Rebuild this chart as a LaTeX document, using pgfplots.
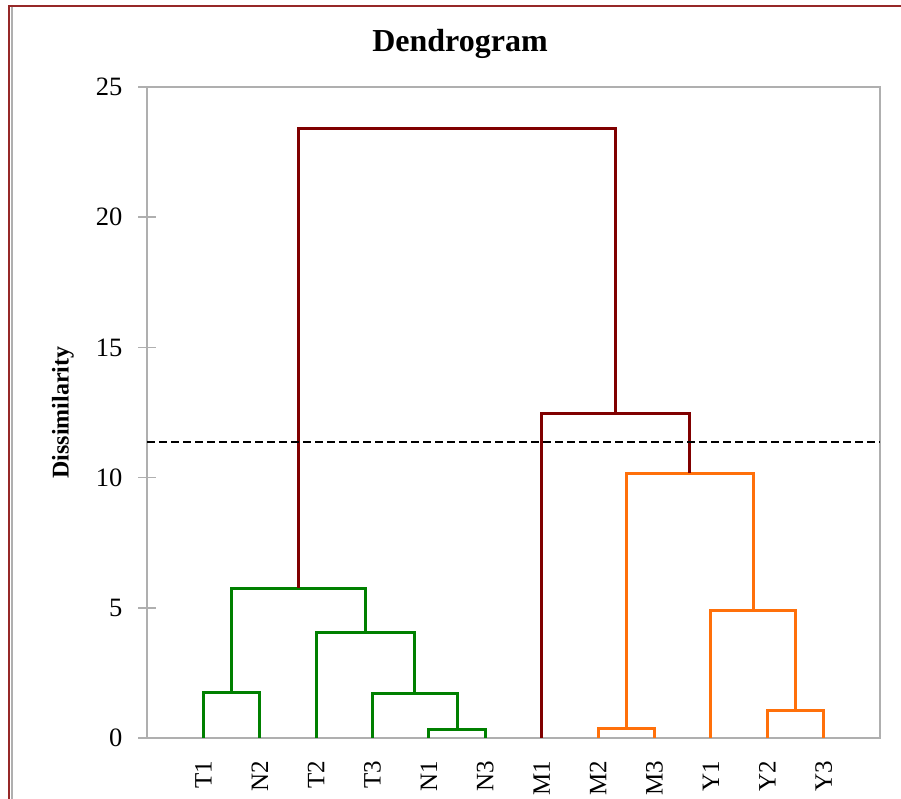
\documentclass[border=0pt]{standalone}
\usepackage{pgfplots}
\pgfplotsset{compat=1.18}
\usepackage{fontspec}
\setmainfont{Liberation Serif}
\definecolor{dgreen}{RGB}{0,128,0}
\definecolor{dorange}{RGB}{255,112,10}
\definecolor{dred}{RGB}{128,0,0}
\definecolor{framered}{RGB}{150,40,40}
\definecolor{axgrey}{RGB}{175,175,175}
\begin{document}
\begin{tikzpicture}
\path[use as bounding box] (-147pt,-61pt) rectangle (754pt,738pt);
\draw[framered, line width=2.6pt] (-138pt,-80pt) -- (-138pt,732pt) -- (780pt,732pt);
\draw[axgrey, line width=2pt] (-135pt,-80pt) -- (-135pt,730.5pt);
\begin{axis}[
  scale only axis,
  width=733pt, height=651pt,
  xmin=0, xmax=13, ymin=0, ymax=25,
  clip=false,
  axis line style={axgrey, line width=1.5pt},
  ytick={0,5,10,15,20,25},
  ytick pos=left,
  xtick={1,...,12},
  xticklabels={T1,N2,T2,T3,N1,N3,M1,M2,M3,Y1,Y2,Y3},
  x tick style={draw=none},
  y tick style={axgrey, line width=1.5pt},
  tick align=center,
  major tick length=18pt,
  /pgf/number format/assume math mode=true,
  yticklabel style={font=\fontsize{26.5}{30}\selectfont, anchor=east, xshift=-12pt},
  xticklabel style={font=\fontsize{25}{29}\selectfont, rotate=90, anchor=east},
  xticklabel shift=10pt,
  ylabel={\textbf{Dissimilarity}},
  ylabel style={font=\fontsize{24}{28}\selectfont, at={(rel axis cs:-0.1146,0.5)}, anchor=center},
  title={\textbf{Dendrogram}},
  title style={font=\fontsize{32}{36}\selectfont, at={(rel axis cs:0.427,1.0553)}, anchor=base, yshift=-7pt},
  every axis plot/.append style={line width=3pt, line join=miter},
]
% green cluster
\addplot[dgreen] coordinates {(1,0)(1,1.74)(2,1.74)(2,0)};
\addplot[dgreen] coordinates {(5,0)(5,0.34)(6,0.34)(6,0)};
\addplot[dgreen] coordinates {(4,0)(4,1.71)(5.5,1.71)(5.5,0.34)};
\addplot[dgreen] coordinates {(3,0)(3,4.07)(4.75,4.07)(4.75,1.71)};
\addplot[dgreen] coordinates {(1.5,1.74)(1.5,5.76)(3.875,5.76)(3.875,4.07)};
% orange cluster
\addplot[dorange] coordinates {(8,0)(8,0.37)(9,0.37)(9,0)};
\addplot[dorange] coordinates {(11,0)(11,1.04)(12,1.04)(12,0)};
\addplot[dorange] coordinates {(10,0)(10,4.91)(11.5,4.91)(11.5,1.04)};
\addplot[dorange] coordinates {(8.5,0.37)(8.5,10.16)(10.75,10.16)(10.75,4.91)};
% dark red links
\addplot[dred] coordinates {(7,0)(7,12.48)(9.625,12.48)(9.625,10.16)};
\addplot[dred] coordinates {(2.6875,5.76)(2.6875,23.39)(8.3125,23.39)(8.3125,12.48)};
% truncation line
\addplot[black, line width=2pt, dash pattern=on 8pt off 4pt] coordinates {(0,11.35)(13,11.35)};
\end{axis}
\end{tikzpicture}
\end{document}
